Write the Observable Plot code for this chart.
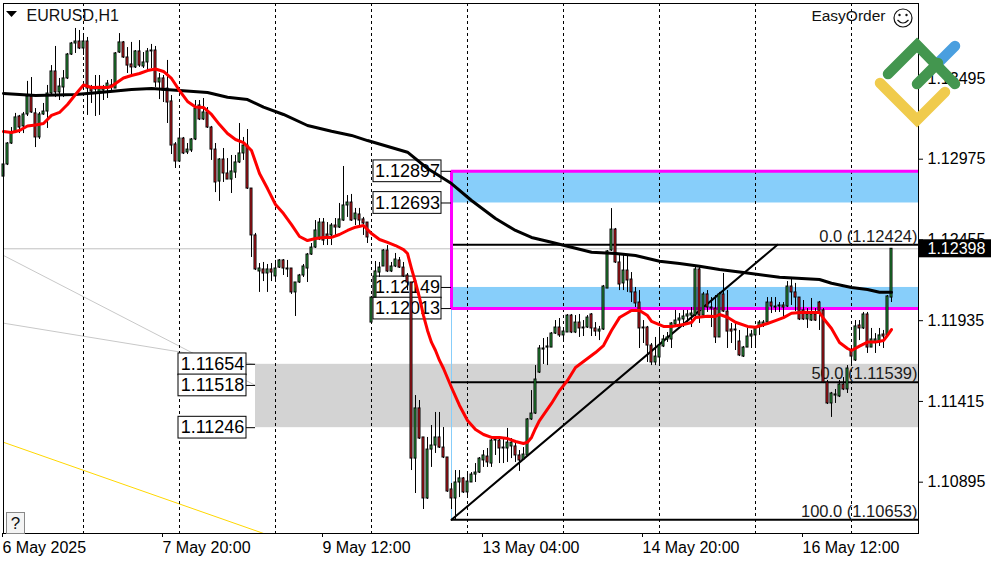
<!DOCTYPE html>
<html><head><meta charset="utf-8">
<style>html,body{margin:0;padding:0;background:#fff}#c{position:relative;width:1000px;height:562px;overflow:hidden}svg{display:block}#o{position:absolute;left:0;top:0;pointer-events:none}</style>
<script src="https://cdn.jsdelivr.net/npm/d3@7"></script>
<script src="https://cdn.jsdelivr.net/npm/@observablehq/plot@0.6"></script>
</head><body><div id="c"></div>
<script>
// Prices are kept in points above 1.10000 (2424 = 1.12424).
const opens=[2863,2941,3076,3147,3250,3186,3263,3379,3270,3115,3263,3282,3398,3540,3405,3437,3495,3649,3720,3733,3688,3733,3430,3424,3405,3417,3430,3450,3430,3662,3727,3630,3585,3566,3669,3572,3598,3675,3675,3469,3495,3430,3347,3070,2960,3108,3018,3031,3102,3321,3231,3276,3179,3037,2831,2973,2883,2844,2889,2954,3012,3063,2786,2484,2252,2265,2239,2265,2220,2277,2323,2271,2271,2117,2181,2226,2271,2361,2406,2458,2567,2490,2484,2548,2535,2580,2677,2696,2587,2619,2587,2567,1923,2084,2245,2284,2387,2252,2284,2323,2277,2226,2181,1047,1370,1183,790,1105,1131,1183,1118,1054,848,790,893,919,829,893,944,957,1035,1060,1015,1163,1163,1118,1112,1125,1125,1067,1041,1067,1299,1337,1601,1749,1762,1762,1852,1891,1840,1859,1968,1859,1923,1885,1891,1975,1885,1865,1878,2142,2387,2522,2310,2175,2258,2200,2117,2052,1885,1891,1775,1666,1698,1769,1814,1814,1910,1936,1943,1962,1968,1968,2265,1968,2104,2020,2013,1827,2104,1994,1878,1872,1801,1704,1762,1833,1840,1898,1904,1923,2052,2020,2026,2033,2026,2155,2117,2084,2001,1943,1936,1975,2052,2001,1537,1402,1453,1447,1524,1492,1736,1679,1904,1885,1975,1762,1795,1795,1846,1840,2084];
const highs=[2973,3082,3179,3270,3257,3276,3476,3501,3301,3276,3334,3450,3578,3701,3495,3546,3656,3727,3817,3804,3772,3759,3450,3514,3514,3450,3482,3488,3662,3784,3733,3694,3727,3675,3739,3662,3688,3714,3701,3527,3514,3611,3385,3082,3173,3115,3076,3108,3353,3353,3366,3308,3186,3076,2979,3044,2979,2999,2999,3205,3115,3166,2786,2497,2303,2310,2297,2303,2323,2329,2329,2323,2271,2181,2233,2297,2368,2432,2580,2593,2593,2567,2561,2593,2690,2928,2741,2748,2658,2658,2600,2567,2091,2316,2310,2393,2419,2310,2368,2342,2310,2239,2181,1453,1421,1183,1183,1260,1344,1344,1247,1054,887,970,970,925,951,957,1015,1054,1099,1112,1170,1183,1183,1176,1241,1176,1150,1099,1118,1305,1485,1646,1775,1820,1827,1859,1936,1949,1891,1975,1975,1968,1975,1936,1968,1981,1923,1898,2162,2387,2657,2529,2368,2355,2355,2245,2149,2129,1936,1898,1788,1827,1872,1840,1859,1923,2001,1981,2001,2001,2020,2290,2284,2117,2129,2084,2097,2117,2239,2129,1917,1917,1872,1769,1885,1872,1891,1936,1936,2084,2084,2084,2052,2052,2187,2200,2175,2084,2065,2013,2078,2013,2059,2013,1550,1473,1492,1550,1569,1646,1762,1936,1936,1988,1988,1885,1852,1885,1872,2097,2398];
const lows=[2793,2934,3070,3140,3140,3140,3250,3270,3050,3102,3257,3173,3392,3372,3353,3372,3488,3643,3656,3681,3643,3257,3334,3250,3257,3353,3366,3405,3430,3656,3624,3527,3514,3559,3566,3559,3546,3559,3437,3359,3340,3205,3005,2915,2960,3005,3005,3018,3095,3224,3224,3173,2967,2760,2703,2825,2844,2754,2851,2947,2967,2780,2342,2258,2117,2187,2117,2187,2194,2271,2226,2213,2104,1962,2175,2213,2181,2355,2400,2451,2419,2419,2419,2484,2529,2574,2600,2574,2548,2548,2484,2432,1917,2084,2213,2284,2245,2245,2277,2271,2213,2129,970,822,1170,719,784,990,1080,1112,1047,829,719,653,796,822,790,893,893,951,990,990,990,1067,1015,1015,1022,1047,1022,964,1035,1060,1292,1331,1595,1653,1646,1762,1846,1827,1807,1859,1852,1852,1827,1833,1885,1833,1833,1807,1872,2142,2381,2303,2129,2129,2117,2052,2020,1756,1788,1666,1646,1646,1646,1762,1795,1756,1898,1898,1891,1917,1891,1955,1917,1949,1988,1891,1788,1827,1988,1756,1788,1743,1704,1698,1762,1756,1756,1840,1891,1917,1981,1988,1988,1955,2020,2033,1994,1936,1936,1885,1930,1930,1872,1530,1395,1312,1402,1440,1485,1466,1646,1672,1807,1878,1724,1762,1724,1769,1756,1833,2052];
const closes=[2941,3076,3147,3244,3179,3263,3379,3276,3115,3263,3282,3398,3540,3405,3443,3495,3649,3720,3733,3688,3733,3430,3411,3430,3430,3430,3462,3443,3656,3727,3630,3578,3566,3669,3578,3598,3669,3669,3469,3495,3417,3340,3063,2960,3108,3012,3037,3102,3301,3231,3276,3179,3037,2825,2973,2883,2844,2896,2954,3012,3063,2786,2484,2265,2271,2239,2265,2245,2271,2323,2271,2265,2117,2181,2226,2284,2361,2406,2516,2567,2451,2471,2548,2535,2587,2677,2696,2580,2625,2580,2561,2471,2084,2252,2277,2387,2252,2284,2329,2277,2220,2181,1047,1370,1176,790,1105,1131,1183,1118,1054,835,790,893,919,829,899,944,957,1047,1067,1022,1163,1170,1112,1112,1150,1150,1067,1035,1073,1299,1337,1556,1756,1756,1769,1852,1891,1840,1865,1968,1859,1923,1885,1891,1955,1885,1865,1878,2155,2381,2522,2310,2168,2258,2194,2117,2046,1885,1891,1775,1666,1704,1775,1814,1827,1917,1936,1949,1962,1975,1981,2265,1968,2104,2020,2013,1827,2104,1994,1865,1865,1878,1711,1762,1833,1846,1885,1923,1923,2052,2026,2026,2033,2020,2155,2117,2084,1943,1943,1975,1975,1936,1981,1537,1402,1466,1460,1524,1492,1627,1704,1898,1885,1975,1762,1814,1814,1840,1833,2091,2398];

const redBars=[0,2,4,6,8,10,12,14,16,18,20,22,24,26,27,28,30,32,34,36,38,40,42,43,44,46,48,50,52,54,56,58,60,62,64,66,68,70,72,74,76,78,80,82,84,86,88,90,92,94,96,98,100,101,102,103,104,105,106,107,108,109,110,112,114,116,118,120,122,124,126,128,130,131,132,133,134,137,139,141,143,146,148,150,152,154,157,159,161,162,165,167,170,172,173,176,178,179,181,183,186,188,191,193,195,197,200,204,205,207,209,211,212,214,216,218,220,221,222];
const redValues=[3153,3147,3160,3189,3195,3205,3257,3276,3327,3392,3453,3437,3439,3437,3443,3462,3498,3514,3527,3546,3556,3540,3495,3456,3417,3347,3311,3308,3263,3198,3140,3102,3082,3031,2883,2786,2683,2625,2554,2477,2451,2464,2471,2471,2490,2516,2537,2548,2496,2458,2439,2419,2393,2368,2271,2181,2084,1968,1872,1795,1743,1679,1627,1505,1389,1292,1234,1202,1183,1183,1176,1157,1144,1152,1183,1241,1292,1402,1485,1550,1634,1691,1730,1775,1872,1955,2001,2001,1968,1930,1898,1898,1910,1923,1955,1964,1962,1975,1957,1925,1898,1893,1917,1936,1955,1983,1990,1988,1949,1885,1795,1756,1743,1771,1797,1797,1807,1840,1878];
const blackBars=[0,8,18,24,32,37,44,51,56,61,65,70,76,82,87,91,101,106,112,117,123,128,132,137,142,147,153,158,164,169,174,179,185,194,204,207,212,216,219,222];
const blackValues=[3398,3385,3392,3405,3424,3430,3417,3405,3374,3359,3310,3263,3192,3155,3128,3095,3020,2915,2818,2709,2593,2516,2471,2440,2408,2376,2368,2355,2318,2303,2286,2265,2245,2215,2200,2176,2149,2136,2118,2118];

const priceTicks=[1.10895,1.11415,1.11935,1.12455,1.12975,1.13495];
const timeBars=[0,40,80,120,160,200];
const timeLabels=["6 May 2025","7 May 20:00","9 May 12:00","13 May 04:00","14 May 20:00","16 May 12:00"];
const gridBars=[20,44,68,92,116,140,164,188,212];
const zoneLabelsRight=[1.12897,1.12693,1.12149,1.12013];
const zoneLabelsLeft=[1.11654,1.11518,1.11246];
const fibLevels=[[1.12424,"0.0 (1.12424)"],[1.11539,"50.0 (1.11539)"],[1.10653,"100.0 (1.10653)"]];
const bidPrice=1.12398;
const grayLines=[[[0,2355],[63,1518]],[[0,1919],[63,1654]]];
const goldLine=[[0,1152],[65,565]];
const trendLine=[[112,653],[193.5,2424]];

const price=p=>1.1+p/1e5;
const bars=opens.map((o,i)=>({i,o:price(o),h:price(highs[i]),l:price(lows[i]),c:price(closes[i])}));
const red=redBars.map((b,k)=>({b,v:price(redValues[k])}));
const black=blackBars.map((b,k)=>({b,v:price(blackValues[k])}));
const segs=(l,k)=>l.map(([b,p])=>({k,b,v:price(p)}));
const FONT='"Liberation Sans",Arial,sans-serif';
const RIGHT=228.75, ZONE=112, GZONE=63;
const label=(rows,x1,x2,stub)=>[
  Plot.ruleY(rows,{y:d=>d,x1:()=>x2,x2:()=>stub,stroke:"black",strokeWidth:1}),
  Plot.rect(rows,{x1:()=>x1,x2:()=>x2,y1:d=>d-0.00070,y2:d=>d+0.00070,fill:"white",stroke:"black",strokeWidth:1}),
  Plot.text(rows,{x:()=>(x1+x2)/2,y:d=>d,text:d=>d.toFixed(5),fontSize:18,fill:"black"})
];
const chart=Plot.plot({
  width:1000,height:562,marginLeft:3,marginRight:82,marginTop:3,marginBottom:29,
  style:{fontFamily:FONT,fontSize:"16px",background:"white",overflow:"visible"},
  x:{type:"linear",domain:[0,RIGHT],range:[3,918]},
  y:{type:"linear",domain:[price(564.5),price(3977.7)],range:[533,3]},
  marks:[
    Plot.rect([[1.11246,1.11654]],{x1:()=>GZONE,x2:()=>RIGHT,y1:d=>d[0],y2:d=>d[1],fill:"#d3d3d3"}),
    Plot.rect([[1.12693,1.12897],[1.12013,1.12149]],{x1:()=>ZONE,x2:()=>RIGHT,y1:d=>d[0],y2:d=>d[1],fill:"#87cefa"}),
    Plot.ruleY([bidPrice],{stroke:"#c0c0c0",strokeWidth:1}),
    Plot.line([...segs(grayLines[0],"a"),...segs(grayLines[1],"b")],{x:"b",y:"v",z:"k",stroke:"#c8c8c8",strokeWidth:1}),
    Plot.line(segs(goldLine,"g"),{x:"b",y:"v",stroke:"#ffd700",strokeWidth:1}),
    Plot.ruleX(gridBars,{stroke:"black",strokeWidth:1,strokeDasharray:"3,3"}),
    Plot.ruleX([ZONE],{y1:price(653),y2:1.12013,stroke:"#87cefa",strokeWidth:1}),
    Plot.ruleY(fibLevels,{y:d=>d[0],x1:()=>ZONE,x2:()=>RIGHT,stroke:"black",strokeWidth:2}),
    Plot.line(segs(trendLine,"t"),{x:"b",y:"v",stroke:"black",strokeWidth:2}),
    Plot.ruleY([1.12897,1.12013],{x1:()=>ZONE,x2:()=>RIGHT,stroke:"#ff00ff",strokeWidth:3}),
    Plot.ruleX([ZONE],{y1:1.12013,y2:1.12897,stroke:"#ff00ff",strokeWidth:3}),
    ...label(zoneLabelsRight,92.5,109.5,ZONE),
    ...label(zoneLabelsLeft,43.75,60.75,GZONE),
    Plot.text(fibLevels,{x:()=>228.5,y:d=>d[0],text:d=>d[1],textAnchor:"end",lineAnchor:"bottom",dy:-3,fontSize:16.5,fill:"#1a1a1a"}),
    Plot.ruleX(bars,{x:"i",y1:"l",y2:"h",stroke:"black",strokeWidth:1}),
    Plot.rect(bars,{x1:d=>d.i-0.25,x2:d=>d.i+0.25,y1:"o",y2:"c",fill:d=>d.c>=d.o?"#2fb344":"#ee1c25",stroke:"black",strokeWidth:1}),
    Plot.line(black,{x:"b",y:"v",stroke:"black",strokeWidth:3}),
    Plot.line(red,{x:"b",y:"v",stroke:"#ff0000",strokeWidth:3}),
    Plot.frame({stroke:"black"}),
    Plot.axisY(priceTicks,{anchor:"right",tickSize:4,tickPadding:5,tickFormat:d3.format(".5f"),label:null,fontSize:16,fill:"black"}),
    Plot.axisX(timeBars,{anchor:"bottom",tickSize:4,tickPadding:4,textAnchor:"start",dx:-1,tickFormat:d=>timeLabels[timeBars.indexOf(d)],label:null,fontSize:16,fill:"black"}),
    Plot.rect([bidPrice],{x1:()=>229,x2:()=>247,y1:d=>d-0.00058,y2:d=>d+0.00058,fill:"black"}),
    Plot.text([bidPrice],{x:()=>231,y:d=>d,text:d=>d.toFixed(5),textAnchor:"start",fontSize:16,fill:"white"}),
    Plot.text(["EURUSD,H1"],{frameAnchor:"top-left",dx:23,dy:6,textAnchor:"start",lineAnchor:"top",fontSize:16,fill:"#111"}),
    Plot.text(["EasyOrder"],{frameAnchor:"top-right",dx:-33,dy:6,textAnchor:"end",lineAnchor:"top",fontSize:15.5,fill:"#111"})
  ]
});
document.getElementById("c").appendChild(chart);
document.getElementById("c").insertAdjacentHTML("beforeend",`
<svg id="o" width="1000" height="562" font-family='${FONT}'>
  <polygon points="6,11 17,11 11.5,17" fill="black"/>
  <circle cx="903" cy="18" r="9" fill="none" stroke="#111" stroke-width="1.2"/>
  <circle cx="899.5" cy="15" r="1.2" fill="#111"/><circle cx="906.5" cy="15" r="1.2" fill="#111"/>
  <path d="M897.5 20 Q903 26 908.5 20" fill="none" stroke="#111" stroke-width="1.2"/>
  <rect x="6.5" y="512.5" width="18" height="21" fill="#f4f4f4" stroke="#888"/>
  <text x="15.5" y="529" font-size="17" text-anchor="middle" fill="#111">?</text>
  <g fill="none" stroke-width="10.5" stroke-linecap="round" stroke-linejoin="miter">
    <path d="M938 63 L955 46" stroke="#4a9fdf"/>
    <path d="M880 83 L917 120 L945 92" stroke="#f0cb4c"/>
    <path d="M888 74 L917 45 L955 84" stroke="#43964f"/>
    <path d="M917 84 L938 63" stroke="#43964f"/>
  </g>
</svg>`);
</script></body></html>
